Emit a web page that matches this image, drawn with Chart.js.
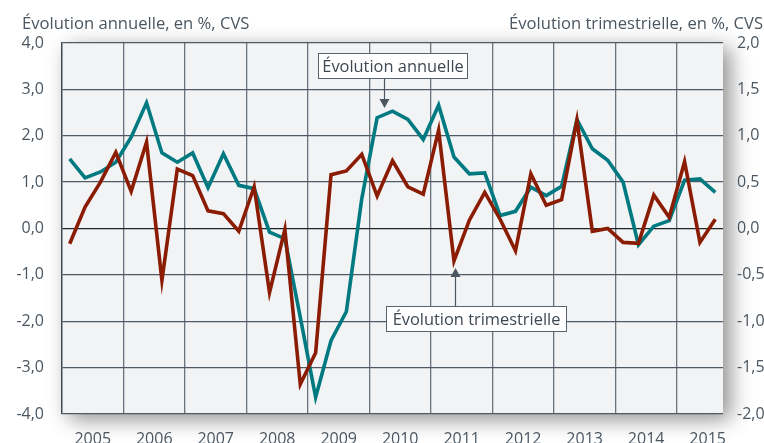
<!DOCTYPE html>
<html>
<head>
<meta charset="utf-8">
<script src="https://cdn.jsdelivr.net/npm/chart.js@4/dist/chart.umd.min.js"></script>
<style>
  html, body { margin: 0; padding: 0; background: #fff; }
  #wrap { width: 764px; height: 443px; }
</style>
</head>
<body>
<div id="wrap"><canvas id="chart" width="764" height="443"></canvas></div>
<script>
// Quarters 2005T1 .. 2015T3
const years = ["2005", "2006", "2007", "2008", "2009", "2010", "2011", "2012", "2013", "2014", "2015"];

// Evolution annuelle (left axis, %)
const annual = [
  1.50, 1.09, 1.22, 1.43, 1.97, 2.71, 1.63, 1.43, 1.63, 0.88, 1.61,
  0.93, 0.86, -0.08, -0.22, -1.91, -3.64, -2.42, -1.79, 0.64, 2.39,
  2.53, 2.35, 1.92, 2.66, 1.54, 1.18, 1.20, 0.28, 0.37, 0.89,
  0.71, 0.91, 2.35, 1.72, 1.47, 1.00, -0.35, 0.05, 0.17, 1.04,
  1.07, 0.78
];

// Evolution trimestrielle (right axis, %)
const quarterly = [
  -0.165, 0.23, 0.50, 0.82, 0.40, 0.93, -0.56, 0.64, 0.57, 0.19, 0.16,
  -0.03, 0.45, -0.69, -0.01, -1.68, -1.34, 0.58, 0.62, 0.80, 0.35,
  0.73, 0.45, 0.37, 1.06, -0.35, 0.09, 0.39, 0.10, -0.24, 0.59,
  0.25, 0.31, 1.17, -0.03, 0.00, -0.15, -0.16, 0.36, 0.12, 0.72,
  -0.15, 0.10
];

const leftTitle = "Évolution annuelle, en %, CVS";
const rightTitle = "Évolution trimestrielle, en %, CVS";
const noteAnnual = "Évolution annuelle";
const noteQuarterly = "Évolution trimestrielle";

const TEXT = "#4b5660";
const GRID = "#4f5a64";
const FONT = "'Open Sans', 'Noto Sans', sans-serif";

const fmt = (v) => v.toFixed(1).replace(".", ",");

// plot background with drop shadow
const backdrop = {
  id: "backdrop",
  beforeDraw(chart) {
    const { ctx, chartArea: a } = chart;
    ctx.save();
    ctx.shadowColor = "rgba(0,0,0,0.45)";
    ctx.shadowBlur = 20;
    ctx.shadowOffsetX = 7;
    ctx.shadowOffsetY = 5;
    ctx.fillStyle = "#f2f3f5";
    ctx.fillRect(a.left, a.top, a.right - a.left, a.bottom - a.top);
    ctx.restore();

    // axis titles
    ctx.save();
    ctx.font = "16.6px " + FONT;
    ctx.fillStyle = TEXT;
    ctx.textBaseline = "middle";
    ctx.textAlign = "left";
    ctx.fillText(leftTitle, 22, 24);
    ctx.textAlign = "right";
    ctx.fillText(rightTitle, 763, 24);
    ctx.restore();
  },
};

// labelled boxes with arrows
function noteBox(ctx, text, x, y, w, h) {
  ctx.fillStyle = "#fff";
  ctx.fillRect(x, y, w, h);
  ctx.strokeStyle = "#5a636b";
  ctx.lineWidth = 1;
  ctx.strokeRect(x + 0.5, y + 0.5, w - 1, h - 1);
  ctx.fillStyle = "#3e4852";
  ctx.font = "16.4px " + FONT;
  ctx.textAlign = "center";
  ctx.textBaseline = "middle";
  ctx.fillText(text, x + w / 2, y + h / 2 + 1);
}

function arrow(ctx, x, y0, y1) {
  const dir = y1 > y0 ? 1 : -1;
  ctx.strokeStyle = "#4b5660";
  ctx.lineWidth = 1.2;
  ctx.beginPath();
  ctx.moveTo(x, y0);
  ctx.lineTo(x, y1 - dir * 8);
  ctx.stroke();
  ctx.fillStyle = "#4b5660";
  ctx.beginPath();
  ctx.moveTo(x - 5, y1 - dir * 9);
  ctx.lineTo(x + 5, y1 - dir * 9);
  ctx.lineTo(x, y1);
  ctx.closePath();
  ctx.fill();
}

const notes = {
  id: "notes",
  afterDatasetsDraw(chart) {
    const { ctx } = chart;
    const xs = chart.scales.x;
    ctx.save();
    const ax = Math.round(xs.getPixelForValue(20.45)) + 0.5;
    arrow(ctx, ax, 79, 108);
    noteBox(ctx, noteAnnual, 318, 53, 150, 26);
    const qx = Math.round(xs.getPixelForValue(25.07)) + 0.5;
    arrow(ctx, qx, 306, 268);
    noteBox(ctx, noteQuarterly, 386, 306, 181, 26);
    ctx.restore();
  },
};

const xMin = -0.5;
const xMax = 42.5;

new Chart(document.getElementById("chart"), {
  type: "line",
  data: {
    datasets: [
      {
        label: "Évolution trimestrielle",
        data: quarterly.map((v, i) => ({ x: i, y: v })),
        yAxisID: "y2",
        borderColor: "#8b1c04",
        borderWidth: 3.6,
        borderJoinStyle: "miter",
        pointRadius: 0,
        tension: 0,
      },
      {
        label: "Évolution annuelle",
        data: annual.map((v, i) => ({ x: i, y: v })),
        yAxisID: "y",
        borderColor: "#007a80",
        borderWidth: 3.6,
        borderJoinStyle: "miter",
        pointRadius: 0,
        tension: 0,
      },
    ],
  },
  options: {
    responsive: false,
    animation: false,
    layout: { padding: { top: 43, bottom: 0, left: 0, right: 0 } },
    plugins: {
      legend: { display: false },
      tooltip: { enabled: false },
    },
    scales: {
      x: {
        type: "linear",
        min: xMin,
        max: xMax,
        grid: { display: false },
        border: { display: false },
        afterBuildTicks: (axis) => {
          axis.ticks = years.map((y, k) => ({ value: 1.5 + 4 * k }));
        },
        afterFit: (axis) => {
          axis.height = 29;
        },
        ticks: {
          padding: 8,
          maxRotation: 0,
          autoSkip: false,
          color: TEXT,
          font: { family: FONT, size: 16 },
          callback: (v, idx) => years[idx],
        },
      },
      xGrid: {
        type: "linear",
        position: "bottom",
        min: xMin,
        max: xMax,
        afterBuildTicks: (axis) => {
          axis.ticks = years.slice(1).map((y, k) => ({ value: 3.5 + 4 * k }));
        },
        afterFit: (axis) => {
          axis.height = 0;
        },
        grid: { color: "#69737c", lineWidth: 1.3, drawTicks: false },
        border: { display: false },
        ticks: { display: false },
      },
      y: {
        position: "left",
        min: -4,
        max: 4,
        afterFit: (axis) => {
          axis.width = 62;
        },
        grid: {
          color: (c) => (c.tick && c.tick.value === 0 ? "#1f2326" : GRID),
          lineWidth: 1.3,
          drawTicks: false,
        },
        border: { display: true, color: "#3f4a54", width: 1.5 },
        ticks: {
          stepSize: 1,
          padding: 18,
          color: TEXT,
          font: { family: FONT, size: 16 },
          callback: (v) => fmt(v),
        },
      },
      y2: {
        position: "right",
        min: -2,
        max: 2,
        afterFit: (axis) => {
          axis.width = 41;
        },
        grid: { display: false, drawTicks: false },
        border: { display: false },
        ticks: {
          stepSize: 0.5,
          padding: 14,
          color: TEXT,
          font: { family: FONT, size: 16 },
          callback: (v) => fmt(v),
        },
      },
    },
  },
  plugins: [backdrop, notes],
});
</script>
</body>
</html>
